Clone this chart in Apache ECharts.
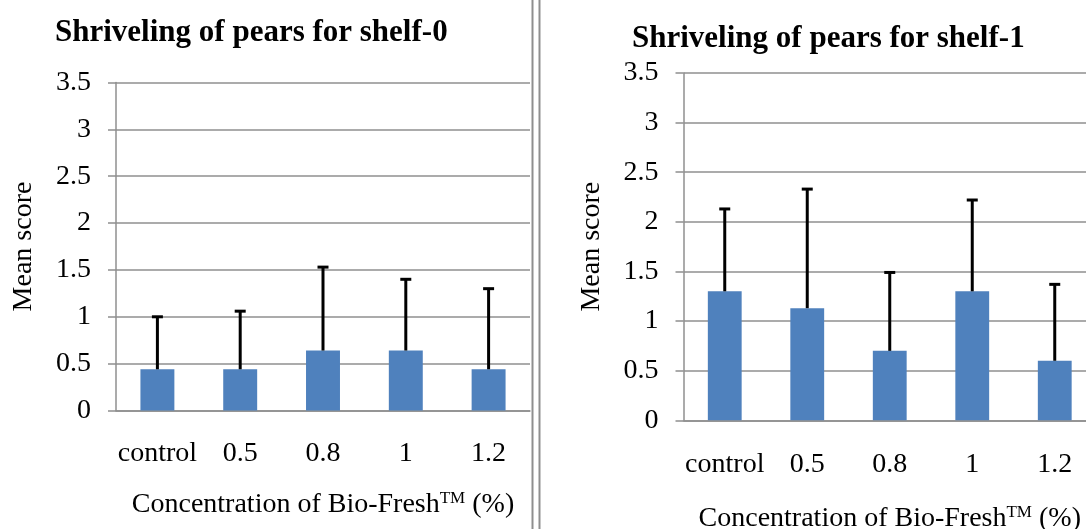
<!DOCTYPE html>
<html>
<head>
<meta charset="utf-8">
<title>Shriveling of pears</title>
<script src="https://cdn.jsdelivr.net/npm/echarts@6/dist/echarts.min.js"></script>
<style>
  html, body { margin: 0; padding: 0; background: #fff; overflow: hidden; }
  #main { width: 1086px; height: 529px; }
</style>
</head>
<body>
<div id="main"></div>
<script>
// data
var categories = ['control', '0.5', '0.8', '1', '1.2']
var shelf0Mean = [0.44, 0.44, 0.64, 0.64, 0.44]
var shelf0Err = [0.56, 0.62, 0.89, 0.76, 0.86] // upper error bar length
var shelf1Mean = [1.30, 1.13, 0.70, 1.30, 0.60]
var shelf1Err = [0.83, 1.20, 0.79, 0.92, 0.77]
var yMin = 0
var yMax = 3.5
var yStep = 0.5

var font = "'Liberation Serif', 'Times New Roman', serif"
var gridColor = '#8f8f8f'
var barColor = '#4f81bd'

var chart = echarts.init(document.getElementById('main'))

function errData(mean, err) {
  return mean.map(function(m, i) { return [i, m, err[i]] })
}

// upper-only error bar with a cap
function errorBar(params, api) {
  var i = api.value(0)
  var mean = api.value(1)
  var err = api.value(2)
  var base = api.coord([i, mean])
  var top = api.coord([i, mean + err])
  var style = { stroke: '#000', lineWidth: 3 }
  return {
    type: 'group',
    children: [
      { type: 'line', shape: { x1: top[0], y1: base[1], x2: top[0], y2: top[1] }, style: style },
      { type: 'line', shape: { x1: top[0] - 5.5, y1: top[1], x2: top[0] + 5.5, y2: top[1] }, style: style }
    ]
  }
}

function xAxisFor(idx, labelMargin, nameGap) {
  return {
    type: 'category',
    gridIndex: idx,
    data: categories,
    axisTick: { show: false },
    axisLine: { lineStyle: { color: gridColor, width: 1.5 } },
    axisLabel: { interval: 0, margin: labelMargin, color: '#000', fontFamily: font, fontSize: 28 },
    name: '{a|Concentration of Bio-Fresh}{b|TM}{a| (%)}',
    nameLocation: 'middle',
    nameGap: nameGap,
    nameTextStyle: {
      rich: {
        a: { fontFamily: font, fontSize: 28, color: '#000', lineHeight: 28, verticalAlign: 'bottom' },
        b: { fontFamily: font, fontSize: 17, color: '#000', lineHeight: 17, verticalAlign: 'top' }
      }
    }
  }
}

function yAxisFor(idx) {
  return {
    type: 'value',
    gridIndex: idx,
    min: yMin,
    max: yMax,
    interval: yStep,
    axisLine: { show: true, lineStyle: { color: gridColor, width: 1.5 } },
    axisTick: { show: true, length: 8, lineStyle: { color: gridColor, width: 1.5 } },
    splitLine: { lineStyle: { color: gridColor, width: 1.5 } },
    axisLabel: { margin: 25, color: '#000', fontFamily: font, fontSize: 28 },
    name: 'Mean score',
    nameLocation: 'middle',
    nameGap: 78,
    nameTextStyle: { fontFamily: font, fontSize: 28, color: '#000' }
  }
}

var option = {
  animation: false,
  title: [
    {
      text: 'Shriveling of pears for shelf-0',
      left: 50,
      top: 12,
      textStyle: { fontFamily: font, fontSize: 31, fontWeight: 'bold', color: '#000' }
    },
    {
      text: 'Shriveling of pears for shelf-1',
      left: 627,
      top: 18,
      textStyle: { fontFamily: font, fontSize: 31, fontWeight: 'bold', color: '#000' }
    }
  ],
  grid: [
    { left: 116, right: 556, top: 82.5, bottom: 118.5, outerBoundsMode: 'none' },
    { left: 683.5, right: -10, top: 73, bottom: 108.7, outerBoundsMode: 'none' }
  ],
  xAxis: [xAxisFor(0, 29, 80), xAxisFor(1, 30, 84)],
  yAxis: [yAxisFor(0), yAxisFor(1)],
  graphic: [
    { type: 'line', shape: { x1: 532.5, y1: 0, x2: 532.5, y2: 529 }, style: { stroke: '#8f8f8f', lineWidth: 2 } },
    { type: 'line', shape: { x1: 539.5, y1: 0, x2: 539.5, y2: 529 }, style: { stroke: '#8f8f8f', lineWidth: 2 } }
  ],
  series: [
    {
      type: 'bar',
      xAxisIndex: 0,
      yAxisIndex: 0,
      data: shelf0Mean,
      barWidth: '41%',
      itemStyle: { color: barColor }
    },
    {
      type: 'custom',
      xAxisIndex: 0,
      yAxisIndex: 0,
      data: errData(shelf0Mean, shelf0Err),
      renderItem: errorBar,
      z: 5
    },
    {
      type: 'bar',
      xAxisIndex: 1,
      yAxisIndex: 1,
      data: shelf1Mean,
      barWidth: '41%',
      itemStyle: { color: barColor }
    },
    {
      type: 'custom',
      xAxisIndex: 1,
      yAxisIndex: 1,
      data: errData(shelf1Mean, shelf1Err),
      renderItem: errorBar,
      z: 5
    }
  ]
}

chart.setOption(option)
window.addEventListener('resize', function() {
  chart.resize()
})
</script>
</body>
</html>
